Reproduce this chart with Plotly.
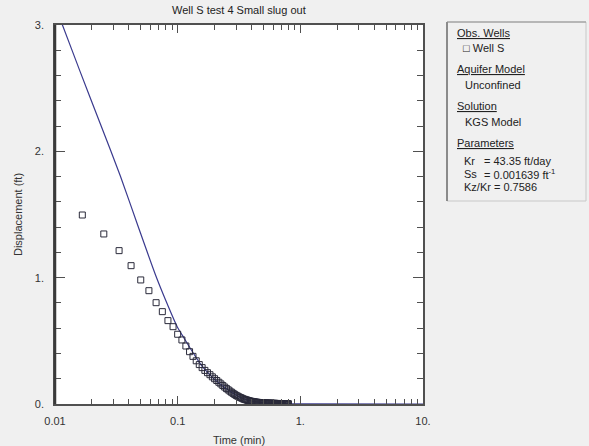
import plotly.graph_objects as go

# ---- data ----
obs_time = [0.0167, 0.025, 0.0333, 0.0417, 0.05, 0.0583, 0.0667, 0.075, 0.0833, 0.0917,
            0.1, 0.1083, 0.1167, 0.125, 0.1333, 0.1417, 0.15, 0.1583, 0.1667, 0.175,
            0.1833, 0.1917, 0.2, 0.2083, 0.2167, 0.225, 0.2333, 0.2417, 0.25, 0.2583,
            0.2667, 0.275, 0.2833, 0.2917, 0.3, 0.3083, 0.3167, 0.325, 0.3333, 0.3417,
            0.35, 0.3583, 0.3667, 0.375, 0.3833, 0.3917, 0.4, 0.4083, 0.4167, 0.425,
            0.4333, 0.4417, 0.45, 0.4583, 0.4667, 0.475, 0.4833, 0.4917, 0.5, 0.5083,
            0.5167, 0.525, 0.5333, 0.5417, 0.55, 0.5583, 0.5667, 0.575, 0.5833, 0.5917,
            0.6, 0.6083, 0.6167, 0.625, 0.6333, 0.6417, 0.65, 0.6583, 0.6667, 0.675,
            0.6833, 0.6917, 0.7, 0.7083, 0.7167, 0.725, 0.7333, 0.7417, 0.75, 0.7583,
            0.7667, 0.775, 0.7833, 0.7917, 0.8]
obs_disp = [1.496, 1.346, 1.214, 1.095, 0.982, 0.897, 0.802, 0.731, 0.660, 0.612,
            0.552, 0.507, 0.459, 0.414, 0.377, 0.342, 0.312, 0.288, 0.266, 0.248,
            0.232, 0.215, 0.200, 0.186, 0.172, 0.159, 0.146, 0.134, 0.122, 0.112,
            0.102, 0.093, 0.084, 0.076, 0.068, 0.062, 0.056, 0.051, 0.046, 0.041,
            0.037, 0.034, 0.031, 0.028, 0.025, 0.023, 0.021, 0.019, 0.018, 0.016,
            0.015, 0.014, 0.013, 0.012, 0.011, 0.011, 0.010, 0.009, 0.009, 0.008,
            0.008, 0.008, 0.007, 0.007, 0.007, 0.006, 0.006, 0.006, 0.006, 0.005,
            0.005, 0.005, 0.005, 0.005, 0.004, 0.004, 0.004, 0.004, 0.004, 0.004,
            0.003, 0.003, 0.003, 0.003, 0.003, 0.003, 0.003, 0.003, 0.002, 0.002,
            0.002, 0.002, 0.002, 0.002, 0.002]

model_time = [0.01, 0.0115, 0.016, 0.0234, 0.0341, 0.0481, 0.066, 0.0797, 0.0991,
              0.109, 0.125, 0.15, 0.175, 0.2, 0.25, 0.3, 0.35, 0.4, 0.5, 0.6,
              0.8, 1.0, 10.0]
model_disp = [3.15, 3.0, 2.633, 2.218, 1.805, 1.393, 1.021, 0.823, 0.612,
              0.545, 0.45, 0.33, 0.25, 0.195, 0.12, 0.07, 0.04, 0.024, 0.009, 0.003,
              0.001, 0.0003, 0.0]

x_tickvals = [0.01, 0.1, 1, 10]
x_ticktext = ["0.01", "0.1", "1.", "10."]
y_tickvals = [0, 1, 2, 3]
y_ticktext = ["0.", "1.", "2.", "3."]

title = "Well S test 4 Small slug out"
x_title = "Time (min)"
y_title = "Displacement (ft)"

# ---- layout geometry ----
W, H = 589, 446
L, R, T, B = 55, 423, 25, 404   # plot area in pixels
PW, PH = R - L, B - T


def px(x):
    return (x - L) / PW


def py(y):
    return (B - y) / PH


FONT = "Liberation Sans, Arial, sans-serif"
TXT = "#333333"
AX = "#505050"

fig = go.Figure()
fig.add_trace(go.Scatter(x=model_time, y=model_disp, mode="lines",
                         line=dict(color="#3a3a8e", width=1.2, shape="spline",
                                   smoothing=0.6),
                         showlegend=False, hoverinfo="skip"))
fig.add_trace(go.Scatter(x=obs_time, y=obs_disp, mode="markers",
                         marker=dict(symbol="square-open", size=6,
                                     color="#2a2a3a", line=dict(width=1)),
                         showlegend=False))

minor_x = [a * b for b in (0.01, 0.1, 1) for a in range(2, 10)]
minor_y = [i * 0.2 for i in range(1, 15) if i % 5 != 0]

fig.update_xaxes(type="log", range=[-2, 1], tickmode="array",
                 tickvals=x_tickvals, ticktext=x_ticktext,
                 ticks="inside", ticklen=8, tickwidth=1, tickcolor=AX,
                 minor=dict(tickmode="array", tickvals=minor_x, ticks="inside",
                            ticklen=5, tickwidth=1, tickcolor=AX, showgrid=False),
                 showline=True, linecolor=AX, linewidth=1.5, mirror="ticks",
                 showgrid=False, zeroline=False, automargin=False,
                 tickfont=dict(family=FONT, size=11, color=TXT),
                 ticklabelstandoff=6,
                 title=dict(text=x_title, font=dict(family=FONT, size=11, color=TXT),
                            standoff=12))
fig.update_yaxes(range=[0, 3], tickmode="array",
                 tickvals=y_tickvals, ticktext=y_ticktext,
                 ticks="inside", ticklen=10, tickwidth=1, tickcolor=AX,
                 minor=dict(tickmode="array", tickvals=minor_y, ticks="inside",
                            ticklen=6, tickwidth=1, tickcolor=AX, showgrid=False),
                 showline=True, linecolor=AX, linewidth=1.5, mirror="ticks",
                 showgrid=False, zeroline=False, automargin=False,
                 tickfont=dict(family=FONT, size=11, color=TXT),
                 ticklabelstandoff=7,
                 title=dict(text=y_title, font=dict(family=FONT, size=11, color=TXT),
                            standoff=10))

shapes = [
    # thicker dark left axis
    dict(type="line", xref="paper", yref="paper", x0=0, x1=0, y0=0, y1=1,
         line=dict(color="#3a3a3a", width=2.5)),
    # legend box
    dict(type="rect", xref="paper", yref="paper", x0=px(447), x1=px(586),
         y0=py(201), y1=py(22), fillcolor="#f0f0f0",
         line=dict(color="#c8c8c8", width=1), layer="below"),
    dict(type="line", xref="paper", yref="paper", x0=px(447), x1=px(447),
         y0=py(201), y1=py(22), line=dict(color="#707070", width=1.5)),
    dict(type="line", xref="paper", yref="paper", x0=px(447), x1=px(586),
         y0=py(22), y1=py(22), line=dict(color="#909090", width=1)),
]

annotations = [
    dict(text=title, x=px(239), y=py(10), xref="paper", yref="paper",
         showarrow=False, xanchor="center", yanchor="middle",
         font=dict(family=FONT, size=11, color="#222222")),
]

legend_items = [
    ("<u>Obs. Wells</u>", 455, 33),
    ("\u25a1 Well S", 461, 48),
    ("<u>Aquifer Model</u>", 455, 69),
    ("Unconfined", 463, 85),
    ("<u>Solution</u>", 455, 106),
    ("KGS Model", 463, 122),
    ("<u>Parameters</u>", 455, 143),
    ("Kr", 462, 161),
    ("= 43.35 ft/day", 482, 161),
    ("Ss", 462, 174),
    ("= 0.001639 ft<sup>-1</sup>", 482, 174),
    ("Kz/Kr = 0.7586", 462, 187),
]
for text, x, y in legend_items:
    annotations.append(dict(text=text, x=px(x), y=py(y), xref="paper", yref="paper",
                            showarrow=False, xanchor="left", yanchor="middle",
                            font=dict(family=FONT, size=11, color="#222222")))

fig.update_layout(width=W, height=H,
                  margin=dict(l=L, r=W - R, t=T, b=H - B, pad=0, autoexpand=False),
                  paper_bgcolor="#f0f0f0", plot_bgcolor="#ffffff",
                  shapes=shapes, annotations=annotations, showlegend=False)

fig.write_html("out.html")
